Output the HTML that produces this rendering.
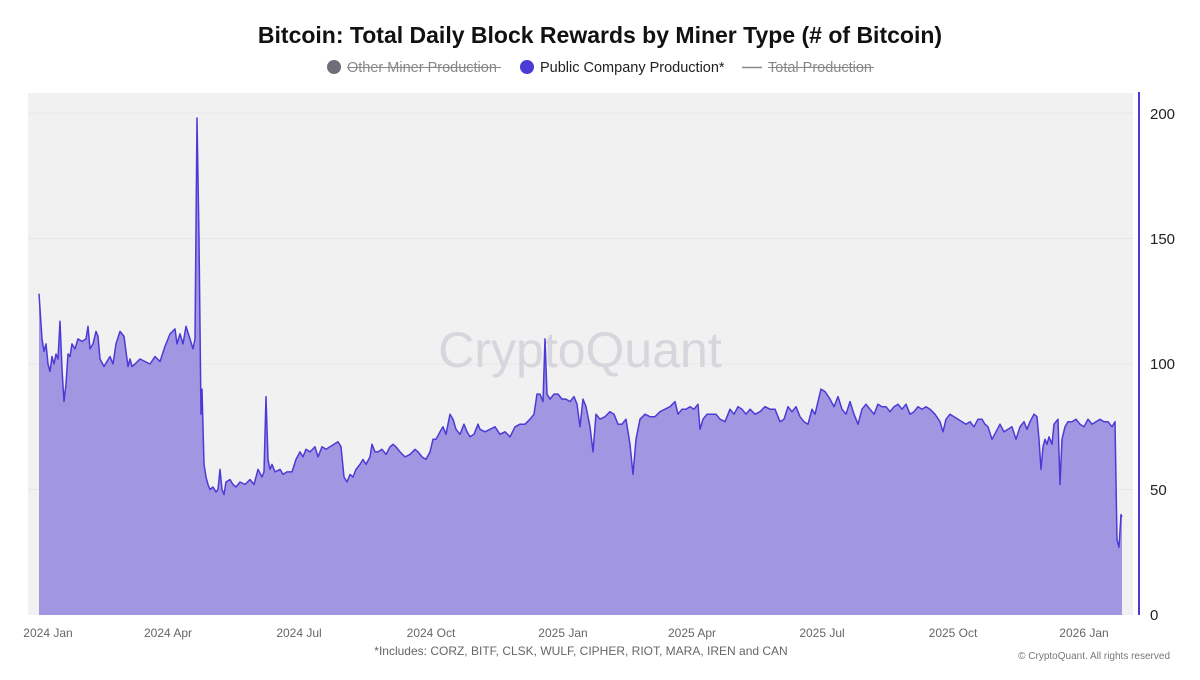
<!DOCTYPE html>
<html><head><meta charset="utf-8"><style>
body{margin:0;background:#fff;width:1200px;height:675px;overflow:hidden;font-family:"Liberation Sans",sans-serif}
</style></head><body>
<svg id="s" width="1200" height="675" xmlns="http://www.w3.org/2000/svg" font-family="Liberation Sans, sans-serif">
<text x="600" y="43" text-anchor="middle" font-size="23" font-weight="bold" fill="#111">Bitcoin: Total Daily Block Rewards by Miner Type (# of Bitcoin)</text>
<circle cx="334" cy="67" r="7" fill="#6e6e78"/>
<text x="347" y="72" font-size="14.5" fill="#888">Other Miner Production</text>
<line x1="347" y1="67.5" x2="501" y2="67.5" stroke="#888" stroke-width="1"/>
<circle cx="527" cy="67" r="7" fill="#4b3bd6"/>
<text x="540" y="72" font-size="14.5" fill="#222">Public Company Production*</text>
<line x1="742" y1="67.5" x2="762" y2="67.5" stroke="#888" stroke-width="1.5"/>
<text x="768" y="72" font-size="14.5" fill="#888">Total Production</text>
<line x1="768" y1="67.5" x2="874" y2="67.5" stroke="#888" stroke-width="1"/>
<rect x="28" y="93" width="1105" height="522" fill="#f1f1f1"/>
<g stroke="#e6e6e6" stroke-width="1">
<line x1="28" y1="113" x2="1133" y2="113"/><line x1="28" y1="238.5" x2="1133" y2="238.5"/>
<line x1="28" y1="364" x2="1133" y2="364"/><line x1="28" y1="489.5" x2="1133" y2="489.5"/></g>
<text x="580" y="367" text-anchor="middle" font-size="50" fill="#d6d6dc">CryptoQuant</text>
<path id="area" fill="#a096e2" stroke="none"/>
<path id="ln" fill="none" stroke="#4b3bd6" stroke-width="1.5" stroke-linejoin="round"/>
<line x1="1139" y1="92" x2="1139" y2="615" stroke="#4b3bd6" stroke-width="2"/>
<g font-size="15" fill="#222">
<text x="1150" y="119">200</text><text x="1150" y="244">150</text><text x="1150" y="369">100</text><text x="1150" y="495">50</text><text x="1150" y="620">0</text></g>
<g font-size="12" fill="#666" text-anchor="middle">
<text x="48" y="637">2024 Jan</text><text x="168" y="637">2024 Apr</text><text x="299" y="637">2024 Jul</text><text x="431" y="637">2024 Oct</text><text x="563" y="637">2025 Jan</text><text x="692" y="637">2025 Apr</text><text x="822" y="637">2025 Jul</text><text x="953" y="637">2025 Oct</text><text x="1084" y="637">2026 Jan</text>
<text x="581" y="655">*Includes: CORZ, BITF, CLSK, WULF, CIPHER, RIOT, MARA, IREN and CAN</text></g>
<text x="1170" y="659" text-anchor="end" font-size="10" fill="#777">© CryptoQuant. All rights reserved</text>
</svg>
<script>
var d=[39,128,42,110,44,105,46,108,48,100,50,97,52,103,54,100,56,104,58,102,60,117,62,98,64,85,66,92,68,104,70,103,72,108,75,106,78,110,82,109,86,110,88,115,90,106,93,108,96,113,98,111,100,102,104,99,107,101,110,103,113,100,116,108,120,113,124,111,126,105,128,99,130,102,132,99,135,100,140,102,145,101,150,100,155,103,160,101,165,107,170,112,175,114,177,108,180,112,183,108,186,115,190,110,193,106,195,110,197,198,199,150,201,80,202,90,204,60,206,55,208,52,210,50,213,51,216,49,218,50,220,58,222,50,224,48,226,53,230,54,233,52,236,51,240,53,245,52,250,54,254,52,258,58,262,55,264,57,266,87,268,62,270,58,272,60,275,57,280,58,283,56,287,57,292,57,296,62,300,65,303,63,306,66,310,65,315,67,318,63,322,67,326,66,330,67,334,68,338,69,341,67,344,55,347,53,350,56,353,55,356,58,360,60,363,62,366,60,370,63,372,68,375,65,378,65,382,66,386,64,390,67,393,68,396,67,400,65,405,63,410,64,415,66,418,65,422,63,426,62,430,65,433,70,436,70,440,73,443,75,446,72,450,80,453,78,456,74,460,72,464,76,467,73,470,71,474,72,478,76,480,74,485,73,490,74,495,75,500,72,505,73,510,71,515,75,520,76,525,76,530,78,534,80,537,88,540,88,543,85,545,110,547,88,550,86,554,88,558,88,562,86,566,86,570,85,574,87,577,84,580,75,583,86,586,83,590,75,593,65,596,80,600,78,605,79,610,81,614,80,618,76,622,76,626,78,630,68,633,56,636,70,640,78,645,80,650,79,655,79,660,81,665,82,670,83,675,85,678,80,682,82,686,82,690,83,694,82,698,84,700,74,703,78,707,80,712,80,716,80,720,78,725,77,730,82,734,80,738,83,742,82,746,80,750,82,755,80,760,81,765,83,770,82,775,82,780,77,784,78,788,83,792,81,796,83,800,79,804,77,808,76,812,82,815,80,818,85,821,90,825,89,830,86,834,83,838,87,842,82,846,80,850,85,854,80,858,76,862,82,866,84,870,82,874,80,878,84,882,83,886,83,890,81,894,83,898,84,902,82,906,84,910,80,914,81,918,83,922,82,926,83,930,82,935,80,940,77,943,73,946,78,950,80,954,79,958,78,962,77,966,76,970,77,974,75,978,78,982,78,985,76,988,75,992,70,996,73,1000,76,1004,73,1008,74,1012,75,1016,70,1020,75,1024,77,1027,74,1030,77,1034,80,1037,79,1039,70,1041,58,1043,67,1045,70,1047,68,1049,71,1052,68,1054,76,1058,78,1060,52,1062,70,1065,75,1068,77,1072,77,1076,78,1080,76,1084,75,1088,78,1092,76,1096,77,1100,78,1104,77,1108,77,1112,75,1115,77,1117,30,1119,27,1121,40,1122,39];
var p="";for(var i=0;i<d.length;i+=2){p+=(i?"L":"M")+d[i]+","+(615-d[i+1]*2.51).toFixed(1);}
document.getElementById("ln").setAttribute("d",p);
document.getElementById("area").setAttribute("d",p+"L1122,615L39,615Z");
</script>
</body></html>
